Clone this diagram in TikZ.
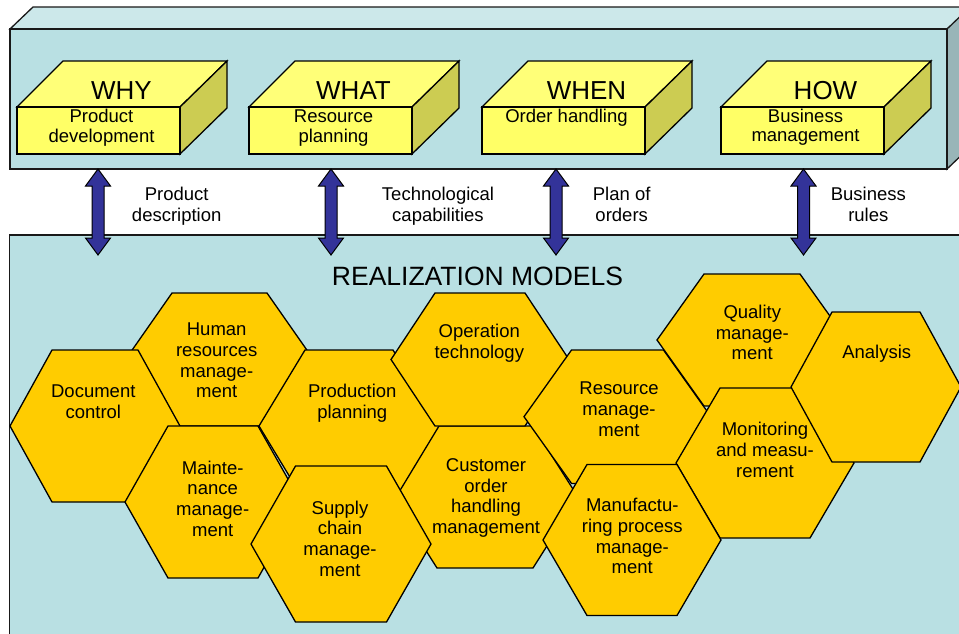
\documentclass[tikz,border=0pt]{standalone}
\usepackage{fontspec}
\setmainfont{Liberation Sans}
\definecolor{panelfront}{RGB}{185,224,227}
\definecolor{paneltop}{RGB}{204,232,234}
\definecolor{panelside}{RGB}{153,181,184}
\definecolor{boxfront}{RGB}{255,255,102}
\definecolor{boxtop}{RGB}{255,255,120}
\definecolor{boxside}{RGB}{204,204,82}
\definecolor{hexfill}{RGB}{255,204,0}
\definecolor{arrowblue}{RGB}{51,51,153}
\tikzset{
  panel/.style={draw=black!90, line width=1.3pt, line join=miter},
  boxedge/.style={draw=black, line width=1.3pt, line join=miter},
  hexstyle/.style={fill=hexfill, draw=black, line width=1.3pt, line join=miter},
  arrowshape/.style={fill=arrowblue, draw=black, line width=1pt, line join=miter},
  titletext/.style={font=\fontsize{26}{30}\selectfont, inner sep=0pt, anchor=center},
  boxtext/.style={font=\fontsize{18.5}{19}\selectfont, align=center, inner sep=0pt, anchor=north},
  labeltext/.style={font=\fontsize{18.5}{20.7}\selectfont, align=center, inner sep=0pt, anchor=north},
  hextext/.style={font=\fontsize{18.5}{20.7}\selectfont, align=center, inner sep=0pt, anchor=north},
}
\newcommand{\yellowbox}[4]{%
  \filldraw[boxedge, fill=boxtop] (#1,107) -- ({#1+46},61) -- ({#1+210},61) -- ({#1+163},107) -- cycle;
  \filldraw[boxedge, fill=boxside] ({#1+163},107) -- ({#1+210},61) -- ({#1+210},108) -- ({#1+163},154) -- cycle;
  \filldraw[boxedge, fill=boxfront] (#1,107) rectangle ({#1+163},154);
  \node[titletext] (#2-title) at ({#1+104.5},91) {#3};
  \node[boxtext] (#2-sub) at ({#1+84.5},109.2) {\strut #4};
}
\newcommand{\hexcell}[9]{%
  \filldraw[hexstyle] ({#2-#5},{#3-#6}) -- ({#2+#5},{#3-#6}) -- ({#2+#4},#3) -- ({#2+#5},{#3+#6}) -- ({#2-#5},{#3+#6}) -- ({#2-#4},#3) -- cycle;
  \node[hextext] (#1) at (#7,#8) {\strut #9};
}
\newcommand{\blockarrow}[2]{%
  \filldraw[arrowshape] (#1) -- ([shift={(12.5,17)}]#1) -- ([shift={(6,17)}]#1) -- ([shift={(6,-17)}]#2) -- ([shift={(12.5,-17)}]#2) -- (#2) -- ([shift={(-12.5,-17)}]#2) -- ([shift={(-6,-17)}]#2) -- ([shift={(-6,17)}]#1) -- ([shift={(-12.5,17)}]#1) -- cycle;
}
\begin{document}
\begin{tikzpicture}[x=1pt,y=-1pt]
\useasboundingbox (0,0) rectangle (959,633);
\clip (0,0) rectangle (959,633);
\fill[white] (0,0) rectangle (959,633);
% bottom panel
\filldraw[panel, fill=panelfront] (9.5,235) rectangle (980,650);
% top panel (3D slab)
\filldraw[panel, fill=paneltop] (10,29) -- (33,7) -- (975,7) -- (947,29) -- cycle;
\filldraw[panel, fill=panelside] (947,29) -- (970,7) -- (970,147) -- (947,169) -- cycle;
\filldraw[panel, fill=panelfront] (10,29) rectangle (947,169);
% yellow boxes
\yellowbox{17}{why}{WHY}{Product\\development}
\yellowbox{249}{what}{WHAT}{Resource\\planning}
\yellowbox{482}{when}{WHEN}{Order handling}
\yellowbox{721}{how}{HOW}{Business\\management}
% arrow end points
\coordinate (a1t) at (98,169);  \coordinate (a1b) at (98,255);
\coordinate (a2t) at (331,169); \coordinate (a2b) at (331,255);
\coordinate (a3t) at (556,169); \coordinate (a3b) at (556,255);
\coordinate (a4t) at (803.5,169); \coordinate (a4b) at (803.5,255);
\blockarrow{a1t}{a1b}
\blockarrow{a2t}{a2b}
\blockarrow{a3t}{a3b}
\blockarrow{a4t}{a4b}
% arrow labels
\node[labeltext] (l1) at (176.7,186) {\strut Product\\description};
\node[labeltext] (l2) at (438,186) {\strut Technological\\capabilities};
\node[labeltext] (l3) at (621.7,186) {\strut Plan of\\orders};
\node[labeltext] (l4) at (868.3,186) {\strut Business\\rules};
% title of lower panel
\node[font=\fontsize{26.5}{30}\selectfont, inner sep=0pt] (realization) at (477.5,276.7) {REALIZATION MODELS};
% hexagons (bottom to top)
\hexcell{hr}{219.5}{359.5}{94}{47.5}{66.5}{216.7}{321}{Human\\resources\\manage-\\ment}
\hexcell{dc}{95}{426}{85}{43}{76}{93.3}{383.3}{Document\\control}
\hexcell{mm}{213}{502}{88}{45}{76}{212.7}{459.3}{Mainte-\\nance\\manage-\\ment}
\hexcell{coh}{485}{497}{93}{48}{71}{486}{456.7}{Customer\\order\\handling\\management}
\hexcell{pp}{349}{426}{90}{44}{76}{352.3}{383.3}{Production\\planning}
\hexcell{ot}{480}{359.5}{89}{45}{66.5}{479.3}{322.7}{Operation\\technology}
\hexcell{sc}{341}{544}{90}{45.5}{78}{340}{499.3}{Supply\\chain\\manage-\\ment}
\hexcell{rm}{617.5}{416.7}{93.5}{46}{66.7}{619}{380}{Resource\\manage-\\ment}
\hexcell{qm}{752}{340}{95}{48}{66}{752.3}{303.7}{Quality\\manage-\\ment}
\hexcell{mo}{765}{463}{89}{45}{75}{765}{421}{Monitoring\\and measu-\\rement}
\hexcell{mp}{632}{540}{89}{45}{75.5}{632.3}{497}{Manufactu-\\ring process\\manage-\\ment}
\hexcell{an}{876}{387}{85}{44}{75}{876.7}{344.3}{Analysis}
\end{tikzpicture}
\end{document}
